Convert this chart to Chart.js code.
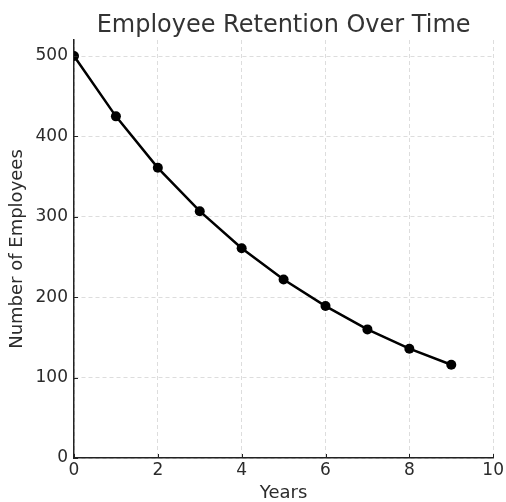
<!DOCTYPE html>
<html>
<head>
<meta charset="utf-8">
<script src="https://cdn.jsdelivr.net/npm/chart.js@4.4.0/dist/chart.umd.min.js"></script>
<style>
  html, body { margin: 0; padding: 0; background: #fff; }
  #wrap { width: 506px; height: 502px; }
</style>
</head>
<body>
<div id="wrap"><canvas id="chart" width="506" height="502"></canvas></div>
<script>
const years = [0, 1, 2, 3, 4, 5, 6, 7, 8, 9];
const employees = [500, 425, 361, 307, 261, 222, 189, 160, 136, 116];
const chartTitle = "Employee Retention Over Time";
const xTitle = "Years";
const yTitle = "Number of Employees";

const FONT = "'DejaVu Sans', sans-serif";
const TEXT = "#2b2b2b";

// title centred over the plot area, like matplotlib does
const titlePlugin = {
  id: "plotTitle",
  afterDraw(chart) {
    const ctx = chart.ctx;
    const a = chart.chartArea;
    ctx.save();
    ctx.font = "24px " + FONT;
    ctx.fillStyle = "#333";
    ctx.textAlign = "center";
    ctx.textBaseline = "alphabetic";
    ctx.fillText(chartTitle, (a.left + a.right) / 2, 32);
    ctx.restore();
  },
};

// small inward tick marks on the two spines
const tickPlugin = {
  id: "innerTicks",
  afterDraw(chart) {
    const ctx = chart.ctx;
    const a = chart.chartArea;
    const xs = chart.scales.x, ys = chart.scales.y;
    ctx.save();
    ctx.strokeStyle = "#222";
    ctx.lineWidth = 1;
    ctx.beginPath();
    xs.ticks.forEach((t) => {
      const px = Math.round(xs.getPixelForValue(t.value)) + 0.5;
      ctx.moveTo(px, a.bottom);
      ctx.lineTo(px, a.bottom - 4);
    });
    ys.ticks.forEach((t) => {
      const py = Math.round(ys.getPixelForValue(t.value)) + 0.5;
      ctx.moveTo(a.left, py);
      ctx.lineTo(a.left + 4, py);
    });
    ctx.stroke();
    ctx.restore();
  },
};

const ctx = document.getElementById("chart").getContext("2d");
const myChart = new Chart(ctx, {
  type: "line",
  data: {
    labels: years,
    datasets: [
      {
        data: years.map((x, i) => ({ x: x, y: employees[i] })),
        borderColor: "#000",
        backgroundColor: "#000",
        borderWidth: 2.5,
        pointRadius: 5,
        pointBackgroundColor: "#000",
        pointBorderWidth: 0,
        tension: 0,
        fill: false,
      },
    ],
  },
  options: {
    responsive: false,
    animation: false,
    layout: {
      padding: { top: 40, right: 12, left: 0, bottom: 0 },
    },
    plugins: {
      legend: { display: false },
      tooltip: { enabled: false },
      title: { display: false },
    },
    scales: {
      x: {
        type: "linear",
        min: 0,
        max: 10,
        ticks: {
          stepSize: 2,
          color: TEXT,
          font: { family: FONT, size: 17 },
          padding: 2,
          maxRotation: 0,
        },
        grid: {
          color: "#d4d4d4",
          lineWidth: 0.8,
          drawTicks: false,
        },
        border: { display: true, color: "#222", width: 1.5, dash: [4, 3] },
        title: {
          display: true,
          text: xTitle,
          color: TEXT,
          font: { family: FONT, size: 18, lineHeight: 1.0 },
          padding: { top: 0, bottom: 0 },
        },
        afterFit(scale) {
          scale.height = 44;
        },
      },
      y: {
        min: 0,
        max: 520,
        ticks: {
          stepSize: 100,
          includeBounds: false,
          color: TEXT,
          font: { family: FONT, size: 17 },
          padding: 6,
        },
        grid: {
          color: "#d4d4d4",
          lineWidth: 0.8,
          drawTicks: false,
        },
        border: { display: true, color: "#222", width: 1.5, dash: [4, 3] },
        title: {
          display: true,
          text: yTitle,
          color: TEXT,
          font: { family: FONT, size: 18 },
          padding: { top: 7, bottom: 0 },
        },
        afterFit(scale) {
          scale.width = 74;
        },
      },
    },
  },
  plugins: [titlePlugin, tickPlugin],
});
</script>
</body>
</html>
